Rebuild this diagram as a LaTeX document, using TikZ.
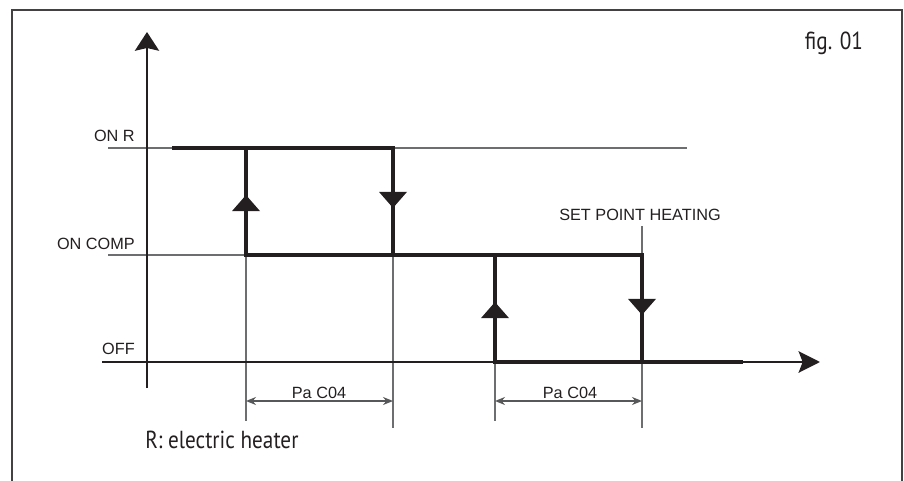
\documentclass[tikz,border=0pt]{standalone}
\usepackage{fontspec}
\usetikzlibrary{arrows.meta,decorations.markings}
\newfontfamily\axisfont{Liberation Sans}
\newfontfamily\notefont[FakeStretch=0.86]{PT Sans}
\definecolor{ink}{HTML}{231F20}
\definecolor{guide}{HTML}{6D6E70}

\begin{document}
\begin{tikzpicture}[x=0.75pt,y=-0.75pt,
  lvl/.style={font=\axisfont\fontsize{12.2}{14}\selectfont, text=ink, inner sep=0pt},
  note/.style={font=\notefont\fontsize{18.5}{21}\selectfont, text=ink, inner sep=0pt},
  loopline/.style={ink, line width=3.6pt, line join=miter},
  guideline/.style={guide, line width=1pt},
  flowarrow/.style={postaction={decorate}, decoration={markings,
    mark=at position 0.56 with {\fill[ink] (0pt,0pt) -- (-12pt,10.5pt) -- (-12pt,-10.5pt) -- cycle;}}}]
\useasboundingbox (0,0) rectangle (904,481);
\draw[ink!85, line width=1.1pt] (12,481) -- (12,10) -- (902,10) -- (902,481);

\draw[guideline] (108,148) -- (687,148);
\draw[guideline] (108,255) -- (246,255);
\draw[guideline] (246,255) -- (246,421);
\draw[guideline] (393,255) -- (393,428);
\draw[guideline] (495,362) -- (495,421);
\draw[guideline] (642,362) -- (642,428);
\draw[guideline] (642,226) -- (642,255);

\draw[ink, line width=2.1pt, -{Stealth[length=14pt,width=18pt,inset=2pt]}] (147,388) -- (147,32);
\draw[ink, line width=2.1pt, -{Stealth[length=16pt,width=16pt,inset=3pt]}] (102,362) -- (820,362);

\draw[loopline] (172,148) -- (393,148) -- (393,255);
\draw[loopline] (246,148) -- (246,255) -- (642,255) -- (642,362);
\draw[loopline] (495,255) -- (495,362) -- (743,362);
\path[flowarrow] (246,255) -- (246,148);
\path[flowarrow] (393,148) -- (393,255);
\path[flowarrow] (495,362) -- (495,255);
\path[flowarrow] (642,255) -- (642,362);

\draw[guide!80!black, line width=1.1pt, {Stealth[length=7.5pt,width=6pt]}-{Stealth[length=7.5pt,width=6pt]}] (246,401) -- (393,401);
\draw[guide!80!black, line width=1.1pt, {Stealth[length=7.5pt,width=6pt]}-{Stealth[length=7.5pt,width=6pt]}] (495,401) -- (642,401);

\node[lvl, anchor=base east] (onr) at (135,142) {ON R};
\node[lvl, anchor=base east] (oncomp) at (135,250) {ON COMP};
\node[lvl, anchor=base east] (off) at (135,354) {OFF};
\node[lvl, anchor=base] (setpoint) at (640,221) {SET POINT HEATING};
\node[lvl, anchor=base] (diff1) at (319,398) {Pa C04};
\node[lvl, anchor=base] (diff2) at (570,398) {Pa C04};
\node[note, anchor=base] (fig) at (834,50) {fig. 01};
\node[note, anchor=base west] (legend) at (145,448) {R: electric heater};
\end{tikzpicture}
\end{document}
